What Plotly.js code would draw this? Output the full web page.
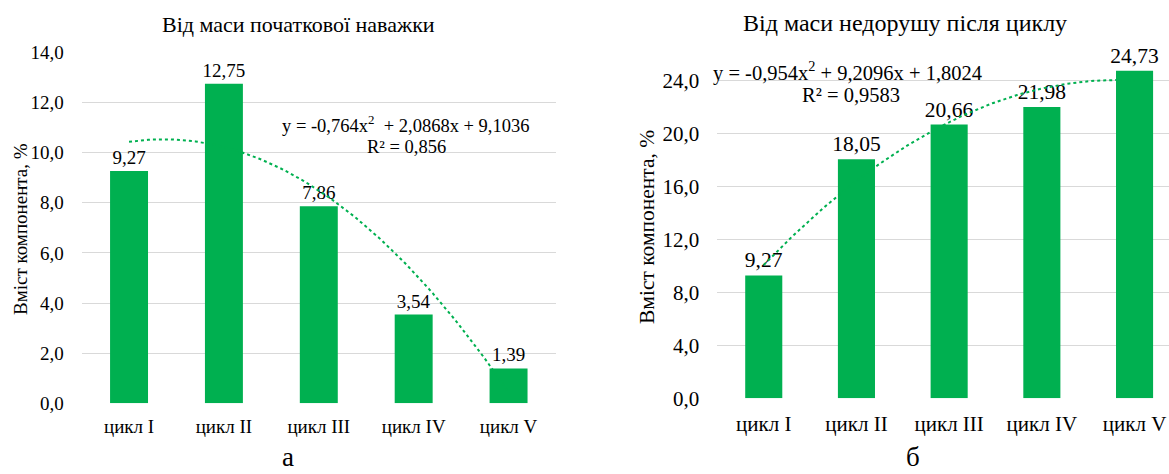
<!DOCTYPE html>
<html><head><meta charset="utf-8">
<script src="https://cdn.plot.ly/plotly-3.0.1.min.js"></script>
<style>html,body{margin:0;padding:0;background:#fff;overflow:hidden}</style>
</head><body>
<div id="chart" style="width:1169px;height:474px"></div>
<script>
const categories = ['цикл I', 'цикл II', 'цикл III', 'цикл IV', 'цикл V'];
const valuesA = [9.27, 12.75, 7.86, 3.54, 1.39];
const valuesB = [9.27, 18.05, 20.66, 21.98, 24.73];
const titleA = 'Від маси початкової наважки';
const titleB = 'Від маси недорушу після циклу';
const eqA = ['y = -0,764x<sup>2</sup>  + 2,0868x + 9,1036', 'R² = 0,856'];
const eqB = ['y = -0,954x<sup>2</sup> + 9,2096x + 1,8024', 'R² = 0,9583'];
const yTitle = 'Вміст компонента, %';
const panelLabels = ['а', 'б'];

const W = 1169, H = 474;
const FONT = "'Liberation Serif', 'Times New Roman', serif";
const GREEN = '#00B050';

// least-squares quadratic fit (as Excel polynomial trendline), x = 1..n
function polyfit2(ys) {
  const n = ys.length;
  let s0 = n, s1 = 0, s2 = 0, s3 = 0, s4 = 0, t0 = 0, t1 = 0, t2 = 0;
  ys.forEach((y, i) => {
    const x = i + 1;
    s1 += x; s2 += x * x; s3 += x ** 3; s4 += x ** 4;
    t0 += y; t1 += x * y; t2 += x * x * y;
  });
  const M = [[s4, s3, s2, t2], [s3, s2, s1, t1], [s2, s1, s0, t0]];
  for (let i = 0; i < 3; i++) {
    for (let k = i + 1; k < 3; k++) {
      const f = M[k][i] / M[i][i];
      for (let j = i; j < 4; j++) M[k][j] -= f * M[i][j];
    }
  }
  const r = [0, 0, 0];
  for (let i = 2; i >= 0; i--) {
    let s = M[i][3];
    for (let j = i + 1; j < 3; j++) s -= M[i][j] * r[j];
    r[i] = s / M[i][i];
  }
  return r;
}
function trend(ys) {
  const [a, b, c] = polyfit2(ys);
  const xs = [], yv = [];
  const n = ys.length;
  for (let k = 0; k <= 120; k++) {
    const x = 1 + (n - 1) * k / 120;
    xs.push(x - 1);
    yv.push(a * x * x + b * x + c);
  }
  return {xs, yv};
}
const idx = categories.map((_, i) => i);
const tA = trend(valuesA), tB = trend(valuesB);

function bars(ys, xa, ya, size) {
  return {
    type: 'bar', x: idx, y: ys, xaxis: xa, yaxis: ya, width: 0.4, marker: {color: GREEN},
    texttemplate: '%{y:.2f}', textposition: 'outside', cliponaxis: false,
    constraintext: 'none', textfont: {family: FONT, size: size, color: '#000'},
    hoverinfo: 'skip', showlegend: false
  };
}
function trendLine(t, xa, ya) {
  return {x: t.xs, y: t.yv, xaxis: xa, yaxis: ya, type: 'scatter', mode: 'lines',
    line: {color: GREEN, width: 2, dash: 'dot'}, cliponaxis: false, showlegend: false, hoverinfo: 'skip'};
}
const data = [
  bars(valuesA, 'x', 'y', 19),
  trendLine(tA, 'x', 'y'),
  bars(valuesB, 'x2', 'y2', 21.5),
  trendLine(tB, 'x2', 'y2')
];

const fx = x => x / W, fy = y => 1 - y / H;
function xAxis(size, ticklen) {
  return {tickvals: idx, ticktext: categories, showgrid: false, zeroline: false, showline: false,
    ticks: 'outside', ticklen: ticklen, tickcolor: 'rgba(0,0,0,0)',
    tickfont: {family: FONT, size: size, color: '#000'}, fixedrange: true};
}
function yAxis(size) {
  return {tickformat: '.1f', gridcolor: '#D9D9D9', gridwidth: 1, zeroline: false, showline: false,
    ticks: 'outside', ticklen: 13, tickcolor: 'rgba(0,0,0,0)',
    tickfont: {family: FONT, size: size, color: '#000'}, fixedrange: true};
}

function ann(text, x, y, size, extra) {
  return Object.assign({text, x: fx(x), y: fy(y), xref: 'paper', yref: 'paper',
    xanchor: 'center', yanchor: 'middle', showarrow: false,
    font: {family: FONT, size: size, color: '#000'}}, extra || {});
}

const layout = {
  width: W, height: H, margin: {l: 0, r: 0, t: 0, b: 0},
  paper_bgcolor: '#fff', plot_bgcolor: '#fff', separators: ', ',
  showlegend: false,
  xaxis: Object.assign({domain: [fx(81.6), fx(556)], range: [-0.5, 4.5], anchor: 'y'}, xAxis(19, 6)),
  yaxis: Object.assign({domain: [fy(403.3), fy(52.3)], range: [0, 14], dtick: 2, anchor: 'x'}, yAxis(19)),
  xaxis2: Object.assign({domain: [fx(717.4), 1], range: [-0.5, -0.5 + (W - 717.4) / 92.7], anchor: 'y2'}, xAxis(21, 6)),
  yaxis2: Object.assign({domain: [fy(398.3), fy(50)], range: [0, (398.3 - 50) / 13.25], dtick: 4, anchor: 'x2'}, yAxis(21)),
  annotations: [
    ann(titleA, 298, 24, 22),
    ann(titleB, 905, 23, 24),
    ann(eqA[0], 405, 124, 18.5),
    ann(eqA[1], 406, 147, 18.5),
    ann(eqB[0], 847, 71, 20.5),
    ann(eqB[1], 851, 95, 20.5),
    ann(yTitle, 20, 229, 19, {textangle: -90}),
    ann(yTitle, 647, 227, 21.5, {textangle: -90}),
    ann(panelLabels[0], 288, 474, 27, {yanchor: 'bottom'}),
    ann(panelLabels[1], 913, 474, 27, {yanchor: 'bottom'})
  ]
};

Plotly.newPlot('chart', data, layout, {staticPlot: true, displayModeBar: false});
</script>
</body></html>
